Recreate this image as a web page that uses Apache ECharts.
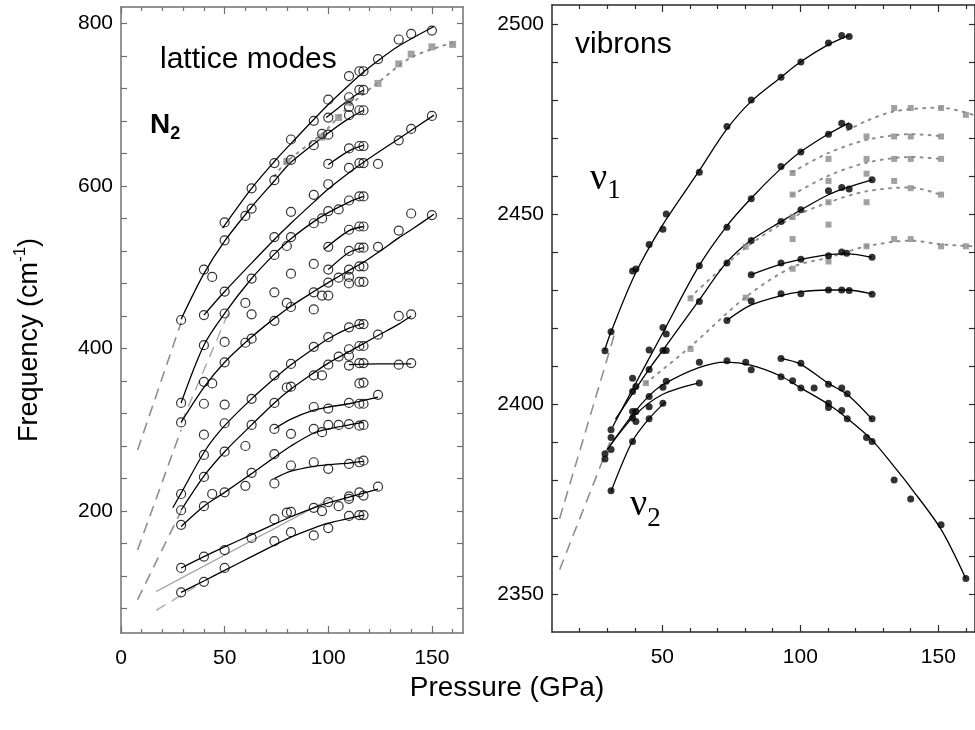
<!DOCTYPE html>
<html>
<head>
<meta charset="utf-8">
<script src="https://cdn.jsdelivr.net/npm/echarts@6/dist/echarts.min.js"></script>
<style>
html,body{margin:0;padding:0;background:#fff}
#c{width:975px;height:730px}
</style>
</head>
<body>
<div id="c"></div>
<script>
// ---------- Lattice modes: observed frequencies (cm-1) at each pressure (GPa) ----------
const obs29  = [435,333,309,221,201,183,130,100];
const obs40  = [497,441,404,359,332,294,269,242,206,144,113];
const obs44  = [488,357,221];
const obs50  = [555,533,470,443,408,383,331,308,273,223,152,130];
const obs60  = [563,456,407,280,231];
const obs63  = [597,572,486,442,412,338,306,247,167];
const obs74  = [628,607,537,515,469,434,367,333,301,270,234,190,163];
const obs80  = [526,456,352,198];
const obs82  = [657,632,568,537,492,451,381,353,295,256,199,174];
const obs93  = [680,650,589,554,504,469,448,402,367,328,301,260,204,170];
const obs97  = [664,560,465,367,297,200];
const obs100 = [706,684,663,627,602,569,525,497,481,465,414,380,326,306,252,211,179];
const obs105 = [571,487,390,306,206];
const obs110 = [735,709,697,687,646,622,582,546,520,497,488,480,426,399,391,379,333,307,258,218,215,194];
const obs115 = [741,718,693,649,628,587,550,524,501,482,430,403,382,357,332,305,260,223,195];
const obs117 = [741,718,693,649,628,587,550,524,501,482,430,403,382,358,332,306,262,219,195];
const obs124 = [756,627,525,417,343,230];
const obs134 = [780,656,545,440,380];
const obs140 = [787,670,566,442,382];
const obs150 = [791,686,564];
const latticePressures = [29,40,44,50,60,63,74,80,82,93,97,100,105,110,115,117,124,134,140,150];
const latticeObs = [obs29,obs40,obs44,obs50,obs60,obs63,obs74,obs80,obs82,obs93,obs97,obs100,obs105,obs110,obs115,obs117,obs124,obs134,obs140,obs150];

// fitted lattice branches [P, freq]
const fitA = [[49,548],[63,597],[74,630],[82,652],[100,700],[110,724],[117,740],[124,754],[134,772],[151,796]];
const fitB = [[29,436],[40,492],[50,532],[63,574],[74,606],[82,629],[100,665],[110,683],[117,693]];
const fitC = [[99,684],[110,706],[117,718]];
const fitD = [[100,626],[110,643],[117,650]];
const fitE = [[40,441],[50,470],[63,505],[74,534],[82,554],[93,580],[100,596],[110,616],[117,629],[134,658],[151,687]];
const fitF = [[29,333],[40,404],[50,443],[63,486],[74,516],[82,535],[93,556],[100,567],[110,580],[117,587]];
const fitG = [[98,522],[110,545],[117,550]];
const fitH = [[100,497],[110,518],[117,524]];
const fitI = [[29,309],[40,352],[50,383],[63,414],[74,437],[82,452],[93,470],[100,481],[110,496],[117,506],[124,518],[134,536],[140,546],[151,565]];
const fitJ = [[29,201],[40,243],[50,273],[63,306],[74,333],[82,350],[93,370],[100,382],[110,396],[117,406],[124,416],[134,430],[140,440]];
const fitK = [[25,204],[29,222],[41,276],[50,305],[63,338],[74,363],[82,380],[93,400],[100,412],[110,425],[117,431]];
const fitL = [[110,380],[124,381],[140,381]];
const fitM = [[74,301],[82,313],[93,324],[100,328],[110,332],[124,340]];
const fitN = [[29,181],[40,206],[50,223],[63,246],[74,266],[82,280],[93,296],[100,301],[110,306],[117,309]];
const fitO = [[74,240],[82,249],[93,255],[100,257],[110,259],[117,261]];
const fitP = [[29,130],[40,144],[50,156],[63,171],[74,184],[82,193],[93,204],[100,210],[110,217],[117,222],[124,227]];
const fitQ = [[29,100],[40,114],[50,127],[63,144],[74,158],[82,168],[93,179],[100,185],[110,191],[117,195]];
const latticeFits = [fitA,fitB,fitC,fitD,fitE,fitF,fitG,fitH,fitI,fitJ,fitK,fitL,fitM,fitN,fitO,fitP,fitQ];

// low-pressure extrapolations (dashed) and calculated branch (thin grey)
const latticeDash1 = [[8,275],[29,432]];
const latticeDash2 = [[8,152],[29,300]];
const latticeDash3 = [[8,91],[29,200]];
const latticeDash4 = [[17,78],[36,107]];
const latticeDash5 = [[29,308],[52,445]];
const latticeThin  = [[17,101],[103,218]];
// second data set (grey squares, dotted)
const latticeSq  = [[80,630],[97,660],[105,684],[110,703],[124,726],[134,750],[140,762],[150,771],[160,774]];
const latticeDot = [[74,612],[80,630],[97,664],[110,698],[124,727],[140,758],[160,776]];

// ---------- Vibrons [P, freq] ----------
const dotsV1 = [[29.2,2414],[31.4,2419],[39.2,2435],[40.4,2435.5],[45.2,2442],[50.2,2446],[51.4,2450],[63.4,2461],[73.4,2473],[82.2,2480],[93,2486],[100.2,2490],[110.2,2495],[115,2497],[117.7,2496.7]];
const dotsV2 = [[39.2,2403.3],[40.4,2404.6],[39.2,2406.8],[45.2,2414.2],[50.2,2420.1],[51.4,2418.4],[63.4,2436.4],[73.4,2446.5],[82.2,2454],[93,2462.5],[100.2,2466.3],[110.2,2471],[115,2473.9],[117.7,2473]];
const dotsV3 = [[45.2,2409.1],[50.2,2414.1],[51.4,2414.1],[63.4,2427],[73.4,2437.1],[82.2,2443],[93,2448],[100.2,2451.1],[110.2,2456.1],[115,2457],[117.7,2456.6],[126,2459]];
const dotsV4 = [[82.2,2434],[93,2437.1],[100.2,2438.1],[110.2,2439],[115,2440],[116.8,2439.7],[126,2438.6]];
const dotsV5 = [[73.4,2422],[82.2,2427.1],[93,2429],[100.2,2429],[110.2,2430],[115,2430],[117.7,2429.9],[126,2428.9]];
const dotsN1 = [[39.2,2398],[40.4,2398],[45.2,2402],[50.2,2404.4],[51.4,2406],[63.4,2411],[73.4,2411.4],[80.2,2411],[82.2,2409],[93,2407.2],[97.2,2406.1],[100.2,2404.2],[105,2404.2],[110.2,2400.2],[110.2,2399.1],[115,2398.3],[117,2396.1],[124,2391.2],[126,2390.1],[134,2380],[140,2375],[151,2368.2],[160,2354.1]];
const dotsN2 = [[93,2412],[100.2,2410.7],[110.2,2405.2],[115,2404.2],[117,2402.7],[126,2396.1]];
const dotsN3 = [[29.2,2386.9],[29.2,2385.5],[31.4,2393.2],[31.4,2391.2],[39.2,2396.3],[40.4,2395.4],[45.2,2399.3],[63.4,2405.5]];
const dotsN4 = [[31.4,2377.2],[39.2,2390.1],[45.2,2396.1],[50.2,2400.2],[31.4,2388]];
const vibronDots = [dotsV1,dotsV2,dotsV3,dotsV4,dotsV5,dotsN1,dotsN2,dotsN3,dotsN4];

const fitV1 = [[29,2414],[31.4,2419],[40,2434],[50,2447],[63,2461],[73,2472],[82,2479.5],[93,2486],[100,2490],[110,2494.5],[117.7,2497]];
const fitV2 = [[32,2394],[40,2405],[50,2418.5],[63,2436],[73,2446.5],[82,2454],[93,2462],[100,2466.3],[110,2471],[117.7,2474]];
const fitV3 = [[33,2396],[45,2409],[50,2414],[63,2427],[73,2437],[82,2443],[93,2448],[100,2451],[110,2455],[117,2457],[126,2459]];
const fitV4 = [[82,2434],[93,2436.8],[100,2438],[110,2439.3],[117,2439.5],[126,2438.6]];
const fitV5 = [[73.4,2422],[82,2426],[93,2428.5],[100,2429.5],[110,2430],[117,2430],[126,2429]];
const fitN1 = [[31,2389],[39,2397],[45,2402],[50,2405],[63,2409.5],[73,2411],[82,2410.2],[93,2407.3],[100,2404.3],[110,2400],[117,2396.2],[126,2390.5],[134,2383.5],[140,2378],[151,2367],[160,2354]];
const fitN2 = [[93,2412],[100,2410.5],[110,2405.5],[117,2402.5],[126,2396]];
const fitN3 = [[30,2388],[40,2397],[50,2402.5],[63,2405.5]];
const fitN4 = [[31.4,2377],[39,2390],[45,2396],[51,2400.5]];
const vibronFits = [fitV1,fitV2,fitV3,fitV4,fitV5,fitN1,fitN2,fitN3,fitN4];

const vibronDash1 = [[32.5,2418],[12,2368]];
const vibronDash2 = [[31,2390],[12,2355]];
const vibronSq = [[44,2405.5],[60.2,2414.5],[60.2,2427.8],[80.2,2428],[80.2,2441.4],[97.2,2435.6],[97.2,2443.4],[97.2,2449.2],[97.2,2455.1],[97.2,2460.8],[110.2,2437.5],[110.2,2447.2],[110.2,2453.1],[110.2,2458.7],[110.2,2464.5],[124,2441.5],[124,2453.1],[124,2460.6],[124,2464.5],[124,2470.4],[134,2443.4],[134,2458.7],[134,2464.5],[134,2470.4],[134,2477.9],[140,2443.4],[140,2456.8],[140,2464.5],[140,2470.4],[140,2477.9],[151,2441.5],[151,2455.1],[151,2464.5],[151,2470.4],[151,2477.9],[160,2441.5],[160,2476.1]];
const dotV1 = [[117,2472],[124,2474.5],[134,2477],[151,2478],[163,2476]];
const dotV2 = [[97,2461],[110,2466],[124,2469.5],[140,2471],[151,2470.5]];
const dotV3 = [[97,2455],[110,2460],[124,2463.5],[140,2465],[151,2464.5]];
const dotV4 = [[60,2428],[80,2441],[97,2449],[110,2453],[124,2456],[140,2457],[151,2455]];
const dotV5 = [[44,2405.5],[60,2415],[80,2428],[97,2436],[110,2438.5],[124,2441.5],[140,2443],[151,2442],[163,2441.5]];
const vibronDotted = [dotV1,dotV2,dotV3,dotV4,dotV5];

// ---------- axis ticks ----------
const latticeXMajor = [0,50,100,150];
const latticeXMinor = [10,20,30,40,60,70,80,90,110,120,130,140,160];
const latticeYTicks = [80,120,160,200,240,280,320,360,400,440,480,520,560,600,640,680,720,760,800];
const latticeYLabels = [200,400,600,800];
const vibronXMajor = [50,100,150];
const vibronXMinor = [20,30,40,60,70,80,90,110,120,130,140,160];
const vibronYTicks = [2350,2360,2370,2380,2390,2400,2410,2420,2430,2440,2450,2460,2470,2480,2490,2500];
const vibronYLabels = [2350,2400,2450,2500];

// ---------- drawing ----------
const FONT = 'Arial, "Liberation Sans", sans-serif';
const SERIF = '"Liberation Serif", "Times New Roman", "DejaVu Serif", serif';
const LEFT_FRAME = '#707070';
const RIGHT_FRAME = '#2a2a2a';
const plain = v => String(v);

function xAxisSet(grid, min, max, major, minor, color) {
  const line = {show: true, onZero: false, lineStyle: {color: color, width: 1.5}};
  const mk = (pos, vals, len, withLine, withLabel) => ({
    type: 'value', gridIndex: grid, position: pos, min: min, max: max,
    axisLine: withLine ? line : {show: false},
    axisTick: {show: true, inside: true, length: len, customValues: vals, lineStyle: {color: color, width: 1.2}},
    axisLabel: withLabel ? {show: true, customValues: vals, formatter: plain, fontSize: 21, fontFamily: FONT, color: '#000', margin: 15} : {show: false},
    splitLine: {show: false}
  });
  return [mk('bottom', major, 7, true, true), mk('bottom', minor, 4, false, false),
          mk('top', major, 7, true, false), mk('top', minor, 4, false, false)];
}
function yAxisSet(grid, min, max, ticks, labels, color) {
  const line = {show: true, onZero: false, lineStyle: {color: color, width: 1.5}};
  const mk = (pos, withLabel) => ({
    type: 'value', gridIndex: grid, position: pos, min: min, max: max,
    axisLine: line,
    axisTick: {show: true, inside: true, length: 6, customValues: ticks, lineStyle: {color: color, width: 1.2}},
    axisLabel: withLabel ? {show: true, customValues: labels, formatter: plain, fontSize: 21, fontFamily: FONT, color: '#000', margin: 8} : {show: false},
    splitLine: {show: false}
  });
  return [mk('left', true), mk('right', false)];
}

const series = [];
function addLine(data, xi, yi, style, z) {
  series.push({type: 'line', xAxisIndex: xi, yAxisIndex: yi, data: data, showSymbol: false, symbol: 'none',
    smooth: 0.3, lineStyle: style, z: z || 2, silent: true});
}
function addScatter(data, xi, yi, symbol, size, itemStyle, z) {
  series.push({type: 'scatter', xAxisIndex: xi, yAxisIndex: yi, data: data, symbol: symbol, symbolSize: size,
    itemStyle: itemStyle, z: z || 3, silent: true});
}

const dashStyle = {color: '#8f8f8f', width: 1.6, type: [11, 7]};
const dotStyle = {color: '#8f8f8f', width: 2, type: [2, 6], cap: 'round'};
const fitStyle = {color: '#000', width: 1.3};

// lattice panel: xAxis 0 / yAxis 0
[latticeDash1, latticeDash2, latticeDash3].forEach(d => addLine(d, 0, 0, dashStyle, 1));
addLine(latticeDash5, 0, 0, {color: '#a8a8a8', width: 1.4, type: [11, 7]}, 1);
addLine(latticeDash4, 0, 0, {color: '#b0b0b0', width: 1.5, type: [11, 7]}, 1);
addLine(latticeThin, 0, 0, {color: '#9a9a9a', width: 1.2}, 1);
addLine(latticeDot, 0, 0, dotStyle, 1);
latticeFits.forEach(d => addLine(d, 0, 0, fitStyle, 2));
const latticeCircles = [];
latticePressures.forEach((p, i) => latticeObs[i].forEach(f => latticeCircles.push([p, f])));
addScatter(latticeSq, 0, 0, 'rect', 7, {color: '#8a8a8a'}, 3);
addScatter(latticeCircles, 0, 0, 'circle', 9, {color: 'rgba(255,255,255,0)', borderColor: '#000', borderWidth: 1.2}, 4);

// vibron panel: xAxis 4 / yAxis 2
[vibronDash1, vibronDash2].forEach(d => addLine(d, 4, 2, dashStyle, 1));
vibronDotted.forEach(d => addLine(d, 4, 2, dotStyle, 1));
vibronFits.forEach(d => addLine(d, 4, 2, fitStyle, 2));
addScatter(vibronSq, 4, 2, 'rect', 6, {color: '#8a8a8a'}, 3);
const vibronAll = [].concat(...vibronDots);
addScatter(vibronAll, 4, 2, 'circle', 7, {color: '#000'}, 4);

// text helpers
const mctx = document.createElement('canvas').getContext('2d');
function textWidth(t, font) { mctx.font = font; return mctx.measureText(t).width; }

const freqFont = 27, freqSup = 17;
const fw1 = textWidth('Frequency (cm', freqFont + 'px ' + FONT);
const fw2 = textWidth('-1', freqSup + 'px ' + FONT);
const fw3 = textWidth(')', freqFont + 'px ' + FONT);
const fx0 = -(fw1 + fw2 + fw3) / 2;

const nuFont = 38, nuSub = 27;
const nuW = textWidth('\u03bd', nuFont + 'px ' + SERIF);

const graphics = [
  {type: 'text', x: 160, y: 60, style: {text: 'lattice modes', fontSize: 30, fontFamily: FONT, fill: '#000', verticalAlign: 'middle'}},
  {type: 'text', x: 150, y: 125, style: {text: 'N', fontSize: 28, fontWeight: 'bold', fontFamily: FONT, fill: '#000', verticalAlign: 'middle'}},
  {type: 'text', x: 150 + textWidth('N', 'bold 28px ' + FONT), y: 134, style: {text: '2', fontSize: 18, fontWeight: 'bold', fontFamily: FONT, fill: '#000', verticalAlign: 'middle'}},
  {type: 'text', x: 575, y: 45, style: {text: 'vibrons', fontSize: 30, fontFamily: FONT, fill: '#000', verticalAlign: 'middle'}},
  {type: 'text', x: 590, y: 179, style: {text: '\u03bd', fontSize: nuFont, fontFamily: SERIF, fill: '#000', verticalAlign: 'middle'}},
  {type: 'text', x: 590 + nuW, y: 191, style: {text: '1', fontSize: nuSub, fontFamily: SERIF, fill: '#000', verticalAlign: 'middle'}},
  {type: 'text', x: 630, y: 505, style: {text: '\u03bd', fontSize: nuFont, fontFamily: SERIF, fill: '#000', verticalAlign: 'middle'}},
  {type: 'text', x: 630 + nuW, y: 519, style: {text: '2', fontSize: nuSub, fontFamily: SERIF, fill: '#000', verticalAlign: 'middle'}},
  {type: 'text', x: 507, y: 688, style: {text: 'Pressure (GPa)', fontSize: 28, fontFamily: FONT, fill: '#000', align: 'center', verticalAlign: 'middle'}},
  {type: 'group', x: 30, y: 340, rotation: Math.PI / 2, children: [
    {type: 'text', x: fx0, y: 0, style: {text: 'Frequency (cm', fontSize: freqFont, fontFamily: FONT, fill: '#000', verticalAlign: 'middle'}},
    {type: 'text', x: fx0 + fw1, y: -10, style: {text: '-1', fontSize: freqSup, fontFamily: FONT, fill: '#000', verticalAlign: 'middle'}},
    {type: 'text', x: fx0 + fw1 + fw2, y: 0, style: {text: ')', fontSize: freqFont, fontFamily: FONT, fill: '#000', verticalAlign: 'middle'}}
  ]}
];

const option = {
  animation: false,
  backgroundColor: '#fff',
  grid: [
    {left: 121, top: 7, width: 342, height: 626},
    {left: 552, top: 5, width: 424, height: 627}
  ],
  xAxis: [].concat(
    xAxisSet(0, 0, 165, latticeXMajor, latticeXMinor, LEFT_FRAME),
    xAxisSet(1, 10, 163.3, vibronXMajor, vibronXMinor, RIGHT_FRAME)
  ),
  yAxis: [].concat(
    yAxisSet(0, 50, 820, latticeYTicks, latticeYLabels, LEFT_FRAME),
    yAxisSet(1, 2340, 2505, vibronYTicks, vibronYLabels, RIGHT_FRAME)
  ),
  series: series,
  graphic: graphics
};

const chart = echarts.init(document.getElementById('c'));
chart.setOption(option);
</script>
</body>
</html>
